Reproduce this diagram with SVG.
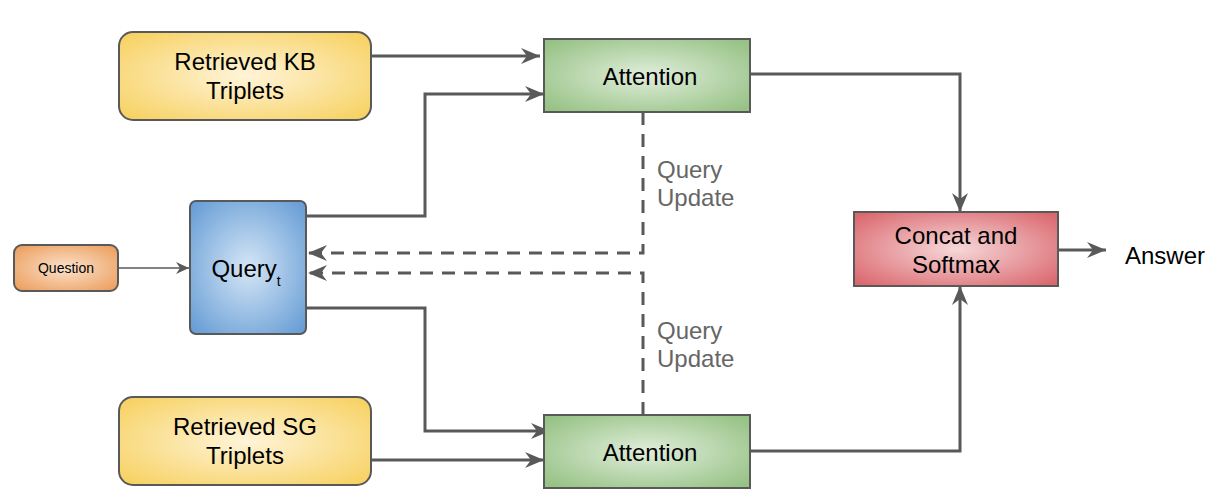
<svg xmlns="http://www.w3.org/2000/svg" width="1213" height="502" viewBox="0 0 1213 502">
<style>
.box{stroke:#595959;stroke-width:2}
.t{font-family:"Liberation Sans",Arial,sans-serif;fill:#000;text-anchor:middle}
.c{fill:none;stroke:#595959;stroke-width:3}
.d{fill:none;stroke:#595959;stroke-width:3;stroke-dasharray:13,9}
.lbl{font-family:"Liberation Sans",Arial,sans-serif;fill:#666;font-size:24px}
</style>
<defs>
<radialGradient id="gy" cx="50%" cy="50%" r="65%"><stop offset="0" stop-color="#fff4d8"/><stop offset="1" stop-color="#f7d264"/></radialGradient>
<radialGradient id="gg" cx="50%" cy="50%" r="65%"><stop offset="0" stop-color="#e0eedb"/><stop offset="1" stop-color="#97c285"/></radialGradient>
<radialGradient id="gb" cx="50%" cy="50%" r="65%"><stop offset="0" stop-color="#d5e6f6"/><stop offset="1" stop-color="#6a9fd6"/></radialGradient>
<radialGradient id="go" cx="50%" cy="50%" r="65%"><stop offset="0" stop-color="#fbe2cc"/><stop offset="1" stop-color="#ec9f5f"/></radialGradient>
<radialGradient id="gr" cx="50%" cy="50%" r="65%"><stop offset="0" stop-color="#f6d8d9"/><stop offset="1" stop-color="#db6a70"/></radialGradient>
<marker id="a" markerWidth="14" markerHeight="12" refX="13" refY="6" orient="auto" markerUnits="userSpaceOnUse">
<path d="M0,0 L13,6 L0,12 L4,6 Z" fill="#595959"/>
</marker>
<marker id="a2" markerWidth="20" markerHeight="16" refX="19" refY="8" orient="auto" markerUnits="userSpaceOnUse">
<path d="M0,0 L19,8 L0,16 L6,8 Z" fill="#595959"/>
</marker>
</defs>
<g id="connectors">
<path class="c" d="M371,56 H540" marker-end="url(#a2)"/>
<path class="c" d="M306,216 H425 V94 H544" marker-end="url(#a2)"/>
<path class="c" d="M306,308 H425 V431 H550" marker-end="url(#a2)"/>
<path class="c" d="M371,460 H544" marker-end="url(#a2)"/>
<path class="c" d="M750,74 H960 V212" marker-end="url(#a2)"/>
<path class="c" d="M750,451 H960 V286" marker-end="url(#a2)"/>
<path class="c" d="M1058,250 H1106" marker-end="url(#a2)"/>
<path fill="none" stroke="#595959" stroke-width="1.5" d="M118,268 H189" marker-end="url(#a)"/>
<path class="d" d="M643,112 V253 H308" marker-end="url(#a2)"/>
<path class="d" d="M643,415 V273 H308" marker-end="url(#a2)"/>
<text class="lbl" x="657" y="178">Query</text>
<text class="lbl" x="657" y="206">Update</text>
<text class="lbl" x="657" y="339">Query</text>
<text class="lbl" x="657" y="367">Update</text>
</g>
<g id="kb">
<rect class="box" x="119" y="32" width="252" height="88" rx="14" fill="url(#gy)"/>
<text class="t" x="245" y="70" font-size="24">Retrieved KB</text>
<text class="t" x="245" y="99" font-size="24">Triplets</text>
</g>
<g id="sg">
<rect class="box" x="119" y="397" width="252" height="88" rx="14" fill="url(#gy)"/>
<text class="t" x="245" y="435" font-size="24">Retrieved SG</text>
<text class="t" x="245" y="464" font-size="24">Triplets</text>
</g>
<g id="att1">
<rect class="box" x="544" y="39" width="206" height="73" fill="url(#gg)"/>
<text class="t" x="650" y="85" font-size="24">Attention</text>
</g>
<g id="att2">
<rect class="box" x="544" y="415" width="206" height="73" fill="url(#gg)"/>
<text class="t" x="650" y="461" font-size="24">Attention</text>
</g>
<g id="query">
<rect class="box" x="190" y="201" width="116" height="133" rx="6" fill="url(#gb)"/>
<text class="t" x="246" y="277" font-size="24">Query<tspan font-size="14" dy="9">t</tspan></text>
</g>
<g id="question">
<rect class="box" x="14" y="245" width="104" height="46" rx="8" fill="url(#go)"/>
<text class="t" x="66" y="273" font-size="14">Question</text>
</g>
<g id="concat">
<rect class="box" x="854" y="212" width="204" height="74" fill="url(#gr)"/>
<text class="t" x="956" y="244" font-size="24">Concat and</text>
<text class="t" x="956" y="273" font-size="24">Softmax</text>
</g>
<g id="answer">
<text class="t" x="1165" y="264" font-size="24">Answer</text>
</g>
</svg>
